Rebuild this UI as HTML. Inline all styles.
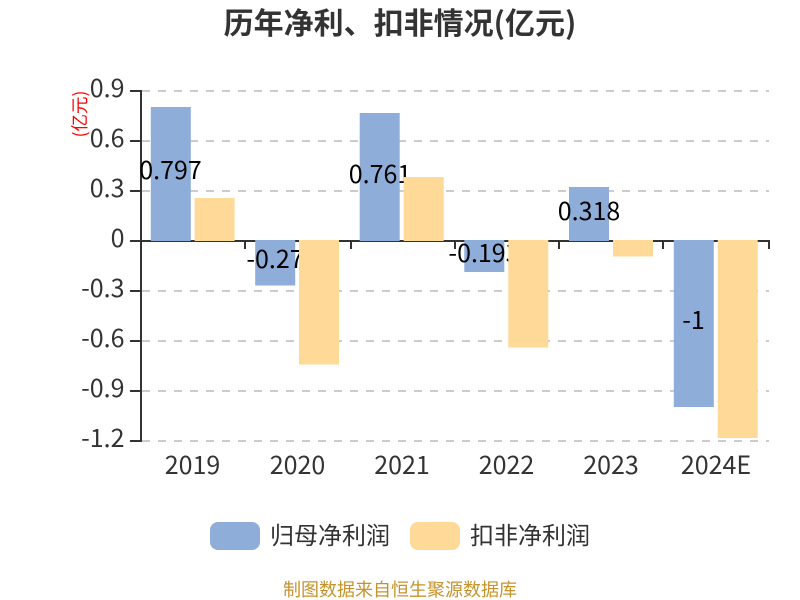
<!DOCTYPE html>
<html><head><meta charset="utf-8"><style>
html,body{margin:0;padding:0;background:#fff}
svg{display:block}
text{font-family:"Liberation Sans","Noto Sans CJK SC",sans-serif}
.n{font-family:"Noto Sans CJK SC",sans-serif}
</style></head><body>
<svg width="800" height="600" viewBox="0 0 800 600" xmlns="http://www.w3.org/2000/svg">
<rect width="800" height="600" fill="#fff"/>
<text class="n" x="400" y="34" text-anchor="middle" font-size="30" font-weight="700" fill="#333">历年净利、扣非情况(亿元)</text>
<g stroke="#ccc" stroke-width="2" stroke-dasharray="8 8">
<line x1="142" y1="91" x2="769" y2="91"/><line x1="142" y1="141" x2="769" y2="141"/><line x1="142" y1="191" x2="769" y2="191"/><line x1="142" y1="291" x2="769" y2="291"/><line x1="142" y1="341" x2="769" y2="341"/><line x1="142" y1="391" x2="769" y2="391"/><line x1="142" y1="441" x2="769" y2="441"/>
</g>
<g stroke="#333" stroke-width="2" fill="none">
<line x1="141" y1="90" x2="141" y2="442"/>
<line x1="130" y1="91" x2="141" y2="91"/><line x1="130" y1="141" x2="141" y2="141"/><line x1="130" y1="191" x2="141" y2="191"/><line x1="130" y1="241" x2="141" y2="241"/><line x1="130" y1="291" x2="141" y2="291"/><line x1="130" y1="341" x2="141" y2="341"/><line x1="130" y1="391" x2="141" y2="391"/><line x1="130" y1="441" x2="141" y2="441"/>
<line x1="140" y1="241" x2="770" y2="241"/>
<line x1="245" y1="240" x2="245" y2="249"/><line x1="351" y1="240" x2="351" y2="249"/><line x1="455" y1="240" x2="455" y2="249"/><line x1="559" y1="240" x2="559" y2="249"/><line x1="663" y1="240" x2="663" y2="249"/><line x1="769" y1="240" x2="769" y2="249"/>
</g>
<g font-size="25" fill="#333" text-anchor="end">
<text class="n" x="124.5" y="97">0.9</text><text class="n" x="124.5" y="147">0.6</text><text class="n" x="124.5" y="197">0.3</text><text class="n" x="124.5" y="247">0</text><text class="n" x="124.5" y="297">-0.3</text><text class="n" x="124.5" y="347">-0.6</text><text class="n" x="124.5" y="397">-0.9</text><text class="n" x="124.5" y="447">-1.2</text>
</g>
<text class="n" transform="translate(86,114) rotate(-90)" text-anchor="middle" font-size="17.5" fill="#f00">(亿元)</text>
<g fill="#8eadd9">
<rect x="150.8" y="107" width="40" height="134"/><rect x="255.2" y="240" width="40" height="45.5"/><rect x="359.7" y="113" width="40" height="128"/><rect x="464.3" y="240" width="40" height="32"/><rect x="569" y="187" width="40" height="54"/><rect x="673.8" y="240" width="40" height="167"/>
</g>
<g font-size="25" fill="#000" text-anchor="middle">
<text class="n" x="170.5" y="179">0.797</text><text class="n" x="275" y="268">-0.27</text><text class="n" x="380" y="183">0.761</text><text class="n" x="484" y="262">-0.193</text><text class="n" x="589" y="220">0.318</text><text class="n" x="693.5" y="329">-1</text>
</g>
<g fill="#fed998">
<rect x="194.6" y="198" width="40" height="43"/><rect x="299" y="240" width="40" height="124.5"/><rect x="403.7" y="177" width="40" height="64"/><rect x="508.3" y="240" width="40" height="107.5"/><rect x="613" y="240" width="40" height="16.5"/><rect x="717.7" y="240" width="40" height="198"/>
</g>
<g font-size="25" fill="#333" text-anchor="middle">
<text class="n" x="192.5" y="474">2019</text><text class="n" x="297.5" y="474">2020</text><text class="n" x="402" y="474">2021</text><text class="n" x="506.5" y="474">2022</text><text class="n" x="611" y="474">2023</text><text class="n" x="716" y="474">2024E</text>
</g>
<rect x="210" y="522" width="50" height="28" rx="8" fill="#8eadd9"/>
<text class="n" x="270" y="544" font-size="24" fill="#333">归母净利润</text>
<rect x="410" y="522" width="50" height="28" rx="8" fill="#fed998"/>
<text class="n" x="470" y="544" font-size="24" fill="#333">扣非净利润</text>
<text class="n" x="400" y="596" text-anchor="middle" font-size="18" fill="#c6932b">制图数据来自恒生聚源数据库</text>
</svg>
</body></html>
